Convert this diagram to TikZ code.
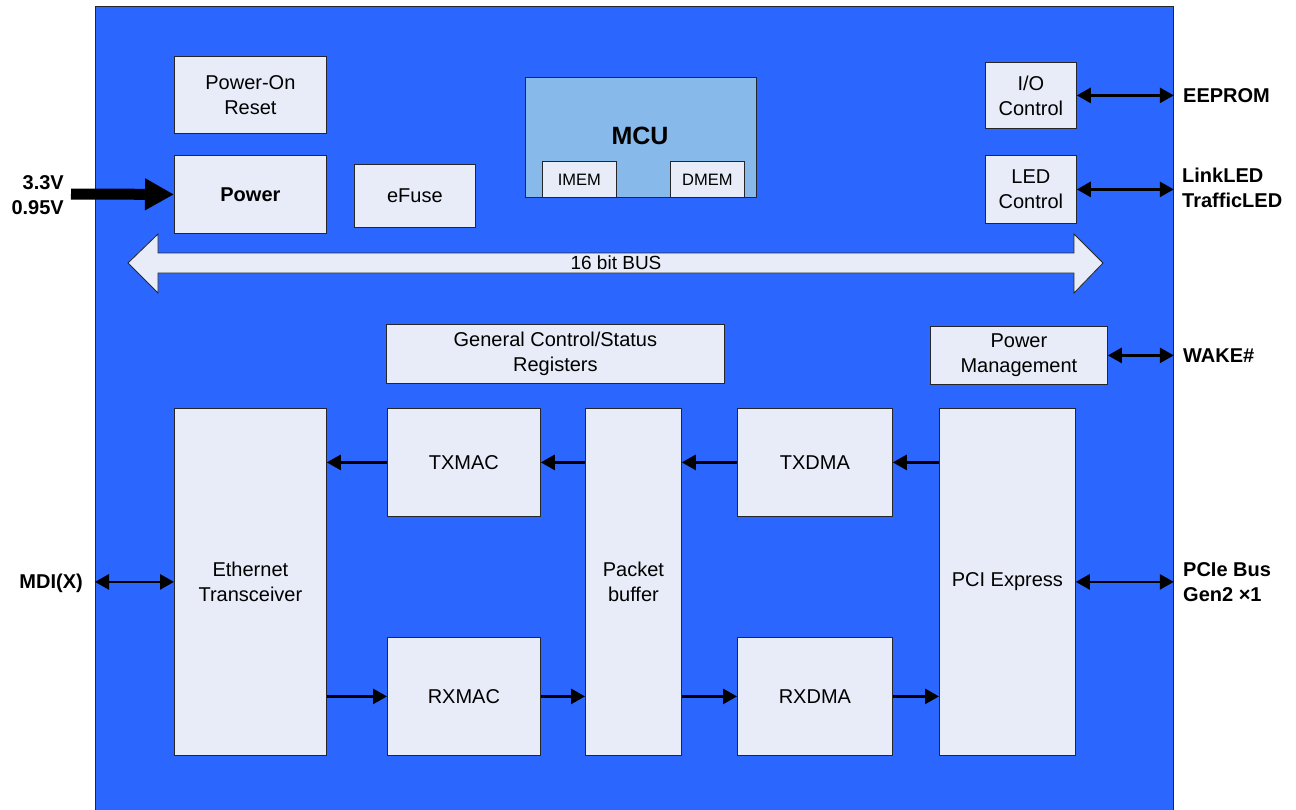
\documentclass[tikz,border=0pt]{standalone}
\usepackage{fontspec}
\setmainfont{Liberation Sans}
\usetikzlibrary{arrows.meta}
\definecolor{chipblue}{HTML}{2B66FF}
\definecolor{boxfill}{HTML}{E7ECF8}
\definecolor{mcufill}{HTML}{87B9EB}

\begin{document}
\begin{tikzpicture}[x=1pt,y=-1pt,
	blk/.style={draw=black!85,fill=boxfill,line width=0.8pt,anchor=north west,inner sep=0pt,align=center,font=\fontsize{20}{25}\selectfont},
	sig/.style={line width=2.8pt,-{Triangle[length=14pt,width=15pt]}},
	bisig/.style={line width=2.8pt,{Triangle[length=14pt,width=15pt]}-{Triangle[length=14pt,width=15pt]}},
	ext/.style={inner sep=0pt,align=left,font=\fontsize{20}{25}\selectfont\bfseries}]
	\useasboundingbox (0,0) rectangle (1296,809);
	\node[draw=black!85,fill=chipblue,line width=0.8pt,anchor=north west,inner sep=0pt,minimum width=1078pt,minimum height=812pt] (chip) at (95,6) {};

	\node[blk,minimum width=152pt,minimum height=77pt] (por) at (174,56) {Power-On\\Reset};
	\node[blk,minimum width=152pt,minimum height=78pt,font=\fontsize{20}{25}\selectfont\bfseries] (pwr) at (174,155) {Power};
	\node[blk,minimum width=121pt,minimum height=63pt] (efuse) at (354,164) {eFuse};
	\node[blk,fill=mcufill,minimum width=231pt,minimum height=120pt] (mcu) at (525,77) {};
	\node[font=\fontsize{25}{30}\selectfont\bfseries] (mcutxt) at (640,136) {MCU};
	\node[blk,minimum width=74pt,minimum height=36pt,font=\fontsize{16.5}{20}\selectfont] (imem) at (542,161) {IMEM};
	\node[blk,minimum width=74pt,minimum height=36pt,font=\fontsize{16.5}{20}\selectfont] (dmem) at (670,161) {DMEM};
	\node[blk,minimum width=91pt,minimum height=66pt] (ioc) at (985,62) {I/O\\Control};
	\node[blk,minimum width=91pt,minimum height=68pt] (ledc) at (985,155) {LED\\Control};

	\draw[draw=black!85,fill=boxfill,line width=0.8pt] (128,263) -- (158,234) -- (158,253) -- (1074,253) -- (1074,234) -- (1103,263) -- (1074,293) -- (1074,273) -- (158,273) -- (158,293) -- cycle;
	\node[font=\fontsize{19}{24}\selectfont] (bus) at (616,263) {16 bit BUS};

	\node[blk,minimum width=338pt,minimum height=59pt] (gcsr) at (386,324) {General Control/Status\\Registers};
	\node[blk,minimum width=177pt,minimum height=58pt] (pm) at (930,326) {Power\\Management};

	\node[blk,minimum width=152pt,minimum height=347pt] (eth) at (174,408) {Ethernet\\Transceiver};
	\node[blk,minimum width=153pt,minimum height=108pt] (txmac) at (387,408) {TXMAC};
	\node[blk,minimum width=153pt,minimum height=118pt] (rxmac) at (387,637) {RXMAC};
	\node[blk,minimum width=96pt,minimum height=347pt] (pbuf) at (585,408) {Packet\\buffer};
	\node[blk,minimum width=155pt,minimum height=108pt] (txdma) at (737,408) {TXDMA};
	\node[blk,minimum width=155pt,minimum height=118pt] (rxdma) at (737,637) {RXDMA};
	\node[blk,minimum width=136pt,minimum height=347pt] (pcie) at (939,408) {PCI Express};

	\node[ext,align=right,anchor=east] (vin) at (64,195) {3.3V\\0.95V};
	\node[ext,anchor=east] (mdi) at (83,583) {MDI(X)};
	\node[ext,anchor=west] (eeprom) at (1183,96) {EEPROM};
	\node[ext,anchor=west] (leds) at (1182,188) {LinkLED\\TrafficLED};
	\node[ext,anchor=west] (wake) at (1183,356) {WAKE\#};
	\node[ext,anchor=west] (pcibus) at (1183,582) {PCIe Bus\\Gen2 ×1};

	\coordinate (pin) at (71,194);
	\draw[line width=11pt,-{Triangle[length=29pt,width=30pt]}] (pin) -- (pwr.west);
	\draw[bisig] (ioc.east) -- (ioc.east -| chip.east);
	\draw[bisig] (ledc.east) -- (ledc.east -| chip.east);
	\draw[bisig] (pm.east) -- (pm.east -| chip.east);
	\draw[bisig] (pcie.east) -- (pcie.east -| chip.east);
	\draw[bisig] (eth.west -| chip.west) -- (eth.west);
	\draw[sig] (txmac.west) -- (txmac.west -| eth.east);
	\draw[sig] (txmac.east -| pbuf.west) -- (txmac.east);
	\draw[sig] (txdma.west) -- (txdma.west -| pbuf.east);
	\draw[sig] (txdma.east -| pcie.west) -- (txdma.east);
	\draw[sig] (rxmac.west -| eth.east) -- (rxmac.west);
	\draw[sig] (rxmac.east) -- (rxmac.east -| pbuf.west);
	\draw[sig] (rxdma.west -| pbuf.east) -- (rxdma.west);
	\draw[sig] (rxdma.east) -- (rxdma.east -| pcie.west);
\end{tikzpicture}
\end{document}
